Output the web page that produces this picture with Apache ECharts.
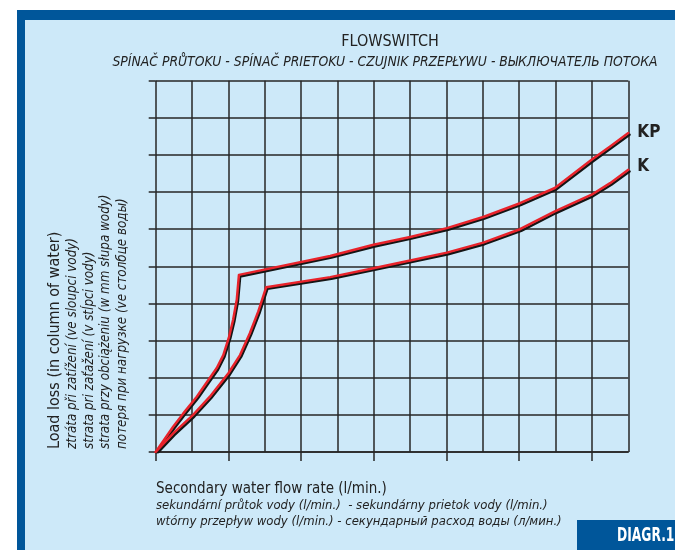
<!DOCTYPE html>
<html><head><meta charset="utf-8">
<script src="https://cdn.jsdelivr.net/npm/echarts@6/dist/echarts.min.js"></script>
<style>html,body{margin:0;padding:0;background:#fff}#c{width:675px;height:550px}</style>
</head><body><div id="c"></div>
<script>
// Flow rate (grid units) and load loss (grid units)
const kpFlow = [0, 0.48, 0.76, 1.13, 1.45, 1.68, 1.86, 2.02, 2.13, 2.23, 2.29, 4.80, 5.99, 7.00, 8.01, 9.01, 10.02, 10.98, 11.99, 12.50, 13.00];
const kpLoss = [0, 0.68, 1.04, 1.49, 1.94, 2.26, 2.61, 3.11, 3.56, 4.10, 4.77, 5.28, 5.58, 5.79, 6.03, 6.33, 6.70, 7.11, 7.87, 8.23, 8.59];
const kFlow = [0, 0.48, 1.03, 1.49, 2.00, 2.32, 2.59, 2.82, 3.04, 4.80, 5.99, 7.00, 8.01, 9.01, 10.02, 10.98, 11.99, 12.50, 13.00];
const kLoss = [0, 0.50, 1.00, 1.49, 2.12, 2.61, 3.20, 3.78, 4.44, 4.71, 4.95, 5.16, 5.37, 5.64, 6.00, 6.48, 6.93, 7.24, 7.60];
const seriesNames = ['KP', 'K'];
const bottomTicks = [0, 2, 4, 6, 8, 10, 12];
const title = 'FLOWSWITCH';
const subtitle = 'SPÍNAČ PRŮTOKU - SPÍNAČ PRIETOKU - CZUJNIK PRZEPŁYWU - ВЫКЛЮЧАТЕЛЬ ПОТОКА';
const xLabels = ['Secondary water flow rate (l/min.)',
  'sekundární průtok vody (l/min.)  - sekundárny prietok vody (l/min.)',
  'wtórny przepływ wody (l/min.) - секундарный расход воды (л/мин.)'];
const yLabels = ['Load loss (in column of water)',
  'ztráta při zatížení (ve sloupci vody)',
  'strata pri zaťažení (v stĺpci vody)',
  'strata przy obciążeniu (w mm słupa wody)',
  'потеря при нагрузке (ve столбце воды)'];
const badge = 'DIAGR.1';

const FONT = "'Liberation Sans Narrow', 'DejaVu Sans Condensed', sans-serif";
const RED = '#e8232b';
const GRIDC = '#262626';
const BLUE = '#00569a';
const LIGHT = '#cde9f9';

const pairs = (xs, ys) => xs.map((x, i) => [x, ys[i]]);

const chart = echarts.init(document.getElementById('c'), null, {renderer: 'canvas'});

function lineSeries(name, data, labelOffsetY) {
  return {
    type: 'line', name, data, showSymbol: false, animation: false, xAxisIndex: 0, yAxisIndex: 0,
    lineStyle: {color: RED, width: 2.5, join: 'round', cap: 'round',
      shadowColor: '#151515', shadowBlur: 0, shadowOffsetX: 1.2, shadowOffsetY: 1.6},
    endLabel: {show: true, formatter: name, distance: 9, offset: [0, labelOffsetY],
      fontFamily: FONT, fontWeight: 'bold', fontSize: 17, color: '#222'},
    z: 5
  };
}

const yTextX = [55, 73, 90, 106, 123];
const yTextSize = [16, 13.3, 13.3, 13.3, 13.3];
const graphics = [
  {type: 'rect', z: -20, shape: {x: 17, y: 10, width: 660, height: 545}, style: {fill: BLUE}},
  {type: 'rect', z: -19, shape: {x: 25, y: 20, width: 660, height: 540}, style: {fill: LIGHT}},
  {type: 'rect', z: 10, shape: {x: 577, y: 520, width: 100, height: 35}, style: {fill: BLUE}},
  {type: 'text', z: 11, x: 617, y: 536, scaleX: 0.72, style: {text: badge, fill: '#fff', font: 'bold 19px ' + FONT, textVerticalAlign: 'middle'}},
  {type: 'text', x: 390, y: 42, style: {text: title, fill: '#222', font: '16px ' + FONT, textAlign: 'center', textVerticalAlign: 'middle'}},
  {type: 'text', x: 385, y: 62, style: {text: subtitle, fill: '#222', font: 'italic 13.8px ' + FONT, textAlign: 'center', textVerticalAlign: 'middle'}},
  {type: 'text', x: 156, y: 489, style: {text: xLabels[0], fill: '#222', font: '15px ' + FONT, textVerticalAlign: 'middle'}},
  {type: 'text', x: 156, y: 506, style: {text: xLabels[1], fill: '#222', font: 'italic 13px ' + FONT, textVerticalAlign: 'middle'}},
  {type: 'text', x: 156, y: 522, style: {text: xLabels[2], fill: '#222', font: 'italic 13px ' + FONT, textVerticalAlign: 'middle'}}
];
yLabels.forEach((t, i) => {
  graphics.push({type: 'text', x: yTextX[i], y: 449, rotation: Math.PI / 2,
    style: {text: t, fill: '#222', font: (i === 0 ? '' : 'italic ') + yTextSize[i] + 'px ' + FONT,
      textAlign: 'left', textVerticalAlign: 'middle'}});
});

chart.setOption({
  backgroundColor: '#fff',
  animation: false,
  grid: {left: 155.7, top: 80.7, width: 472.6, height: 371.3, containLabel: false},
  xAxis: [
    {type: 'value', min: 0, max: 13, interval: 1,
      axisLine: {show: true, lineStyle: {color: GRIDC, width: 1.5}},
      axisTick: {show: false}, axisLabel: {show: false},
      splitLine: {show: true, lineStyle: {color: GRIDC, width: 1.5}}},
    {type: 'value', min: 0, max: 13, interval: 1, position: 'bottom',
      axisLine: {show: false}, axisLabel: {show: false}, splitLine: {show: false},
      axisTick: {show: true, length: 9, customValues: bottomTicks, lineStyle: {color: GRIDC, width: 1.5}}}
  ],
  yAxis: {type: 'value', min: 0, max: 10, interval: 1,
    axisLine: {show: false},
    axisTick: {show: true, length: 7, lineStyle: {color: GRIDC, width: 1.5}},
    axisLabel: {show: false},
    splitLine: {show: true, lineStyle: {color: GRIDC, width: 1.5}}},
  series: [
    lineSeries(seriesNames[0], pairs(kpFlow, kpLoss), 0),
    lineSeries(seriesNames[1], pairs(kFlow, kLoss), -3)
  ],
  graphic: {elements: graphics}
});
</script>
</body></html>
